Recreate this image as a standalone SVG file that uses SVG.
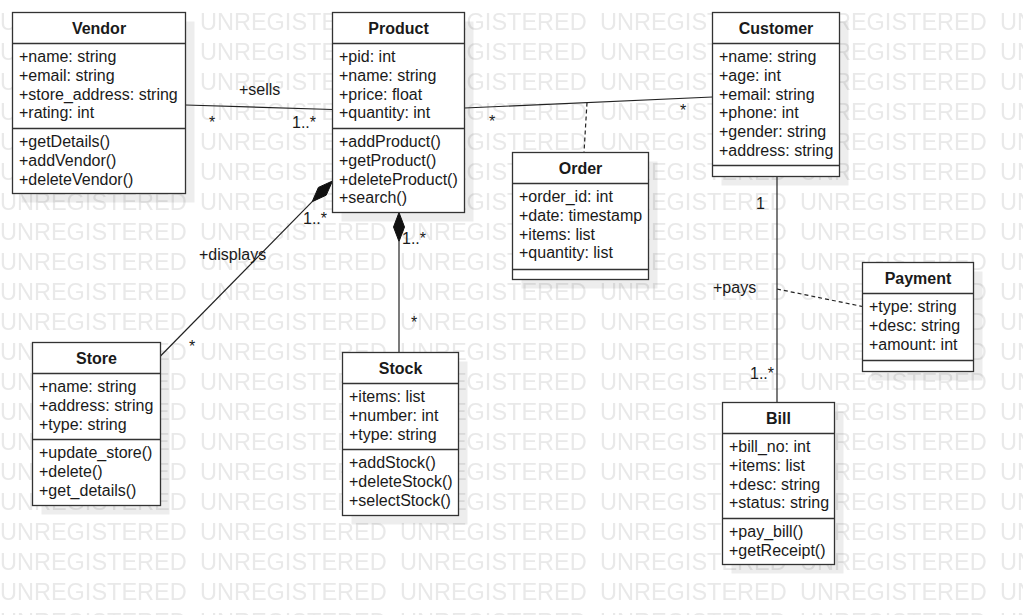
<svg xmlns="http://www.w3.org/2000/svg" width="1023" height="615" viewBox="0 0 1023 615">
<style>
text{font-family:"Liberation Sans",Arial,sans-serif;font-size:16px;fill:#1a1a1a}
.t{font-weight:bold;text-anchor:middle}
.box{fill:#fff;stroke:#333;stroke-width:1.3}
.div{stroke:#333;stroke-width:1.3}
.sh{fill:#000;fill-opacity:0.07}
.ln{stroke:#222;stroke-width:1.2;fill:none}
.ds{stroke:#222;stroke-width:1.2;fill:none;stroke-dasharray:4 3}
.wm{font-size:23.5px;fill:#e9e9e9}
</style>
<defs>
<pattern id="wmp" x="0" y="5" width="200" height="30" patternUnits="userSpaceOnUse">
<text class="wm" x="0" y="25">UNREGISTERED</text>
</pattern>
</defs>
<rect width="1023" height="615" fill="#fff"/>
<rect id="watermark" x="0" y="0" width="1023" height="615" fill="url(#wmp)"/>
<g id="shadows">
<rect class="sh" x="21.5" y="21.5" width="173" height="181"/>
<rect class="sh" x="341.5" y="21.5" width="132" height="200"/>
<rect class="sh" x="721.5" y="21.5" width="127" height="164"/>
<rect class="sh" x="521.5" y="161.5" width="136" height="127"/>
<rect class="sh" x="41.5" y="351.5" width="128" height="163"/>
<rect class="sh" x="351.5" y="361.5" width="116" height="163"/>
<rect class="sh" x="871.5" y="271.5" width="111" height="109"/>
<rect class="sh" x="731.5" y="411.5" width="112" height="162"/>
</g>
<g id="connectors">
<line class="ln" x1="185.5" y1="105" x2="332.5" y2="109.5"/>
<line class="ln" x1="464.5" y1="108" x2="712.5" y2="97"/>
<line class="ds" x1="587" y1="102.6" x2="584" y2="152.5"/>
<line class="ln" x1="160.5" y1="356" x2="312.2" y2="201.7"/>
<polygon points="332.5,181 326.2,195.2 312.2,201.7 318.4,187.4" fill="#111" stroke="#111" stroke-width="1"/>
<line class="ln" x1="399" y1="241.5" x2="399" y2="352.5"/>
<polygon points="399,212.5 404.5,227 399,241.5 393.5,227" fill="#111" stroke="#111" stroke-width="1"/>
<line class="ln" x1="777" y1="176.5" x2="777" y2="402.5"/>
<line class="ds" x1="777" y1="289" x2="862.5" y2="306.5"/>
<text x="239" y="94.5">+sells</text>
<text x="209" y="127.5">*</text>
<text x="292" y="128">1..*</text>
<text x="489" y="127">*</text>
<text x="680" y="116">*</text>
<text x="303" y="224">1..*</text>
<text x="199" y="259.5">+displays</text>
<text x="189" y="352">*</text>
<text x="402" y="244">1..*</text>
<text x="411" y="328">*</text>
<text x="756" y="209">1</text>
<text x="713" y="293">+pays</text>
<text x="750" y="379">1..*</text>
</g>
<g id="Vendor">
<rect class="box" x="12.5" y="12.5" width="173" height="181"/>
<line class="div" x1="12.5" y1="43.5" x2="185.5" y2="43.5"/>
<line class="div" x1="12.5" y1="128.5" x2="185.5" y2="128.5"/>
<text class="t" x="99" y="33.5">Vendor</text>
<text x="19" y="62.3">+name: string</text>
<text x="19" y="81">+email: string</text>
<text x="19" y="99.7">+store_address: string</text>
<text x="19" y="118.4">+rating: int</text>
<text x="19" y="147.3">+getDetails()</text>
<text x="19" y="166">+addVendor()</text>
<text x="19" y="184.7">+deleteVendor()</text>
</g>
<g id="Product">
<rect class="box" x="332.5" y="12.5" width="132" height="200"/>
<line class="div" x1="332.5" y1="43.5" x2="464.5" y2="43.5"/>
<line class="div" x1="332.5" y1="128.5" x2="464.5" y2="128.5"/>
<text class="t" x="398.5" y="33.5">Product</text>
<text x="339" y="62.3">+pid: int</text>
<text x="339" y="81">+name: string</text>
<text x="339" y="99.7">+price: float</text>
<text x="339" y="118.4">+quantity: int</text>
<text x="339" y="147.3">+addProduct()</text>
<text x="339" y="166">+getProduct()</text>
<text x="339" y="184.7">+deleteProduct()</text>
<text x="339" y="203.4">+search()</text>
</g>
<g id="Customer">
<rect class="box" x="712.5" y="12.5" width="127" height="164"/>
<line class="div" x1="712.5" y1="43.5" x2="839.5" y2="43.5"/>
<line class="div" x1="712.5" y1="165.5" x2="839.5" y2="165.5"/>
<text class="t" x="776" y="33.5">Customer</text>
<text x="719" y="62.3">+name: string</text>
<text x="719" y="81">+age: int</text>
<text x="719" y="99.7">+email: string</text>
<text x="719" y="118.4">+phone: int</text>
<text x="719" y="137.1">+gender: string</text>
<text x="719" y="155.8">+address: string</text>
</g>
<g id="Order">
<rect class="box" x="512.5" y="152.5" width="136" height="127"/>
<line class="div" x1="512.5" y1="183.5" x2="648.5" y2="183.5"/>
<line class="div" x1="512.5" y1="269.5" x2="648.5" y2="269.5"/>
<text class="t" x="580.5" y="173.5">Order</text>
<text x="519" y="202.3">+order_id: int</text>
<text x="519" y="221">+date: timestamp</text>
<text x="519" y="239.7">+items: list</text>
<text x="519" y="258.4">+quantity: list</text>
</g>
<g id="Store">
<rect class="box" x="32.5" y="342.5" width="128" height="163"/>
<line class="div" x1="32.5" y1="373.5" x2="160.5" y2="373.5"/>
<line class="div" x1="32.5" y1="439.5" x2="160.5" y2="439.5"/>
<text class="t" x="96.5" y="363.5">Store</text>
<text x="39" y="392.3">+name: string</text>
<text x="39" y="411">+address: string</text>
<text x="39" y="429.7">+type: string</text>
<text x="39" y="458.3">+update_store()</text>
<text x="39" y="477">+delete()</text>
<text x="39" y="495.7">+get_details()</text>
</g>
<g id="Stock">
<rect class="box" x="342.5" y="352.5" width="116" height="163"/>
<line class="div" x1="342.5" y1="383.5" x2="458.5" y2="383.5"/>
<line class="div" x1="342.5" y1="449.5" x2="458.5" y2="449.5"/>
<text class="t" x="400.5" y="373.5">Stock</text>
<text x="349" y="402.3">+items: list</text>
<text x="349" y="421">+number: int</text>
<text x="349" y="439.7">+type: string</text>
<text x="349" y="468.3">+addStock()</text>
<text x="349" y="487">+deleteStock()</text>
<text x="349" y="505.7">+selectStock()</text>
</g>
<g id="Payment">
<rect class="box" x="862.5" y="262.5" width="111" height="109"/>
<line class="div" x1="862.5" y1="293.5" x2="973.5" y2="293.5"/>
<line class="div" x1="862.5" y1="360.5" x2="973.5" y2="360.5"/>
<text class="t" x="918" y="283.5">Payment</text>
<text x="869" y="312.3">+type: string</text>
<text x="869" y="331">+desc: string</text>
<text x="869" y="349.7">+amount: int</text>
</g>
<g id="Bill">
<rect class="box" x="722.5" y="402.5" width="112" height="162"/>
<line class="div" x1="722.5" y1="433.5" x2="834.5" y2="433.5"/>
<line class="div" x1="722.5" y1="518.5" x2="834.5" y2="518.5"/>
<text class="t" x="778.5" y="423.5">Bill</text>
<text x="729" y="452.3">+bill_no: int</text>
<text x="729" y="471">+items: list</text>
<text x="729" y="489.7">+desc: string</text>
<text x="729" y="508.4">+status: string</text>
<text x="729" y="537.3">+pay_bill()</text>
<text x="729" y="556">+getReceipt()</text>
</g>
</svg>
